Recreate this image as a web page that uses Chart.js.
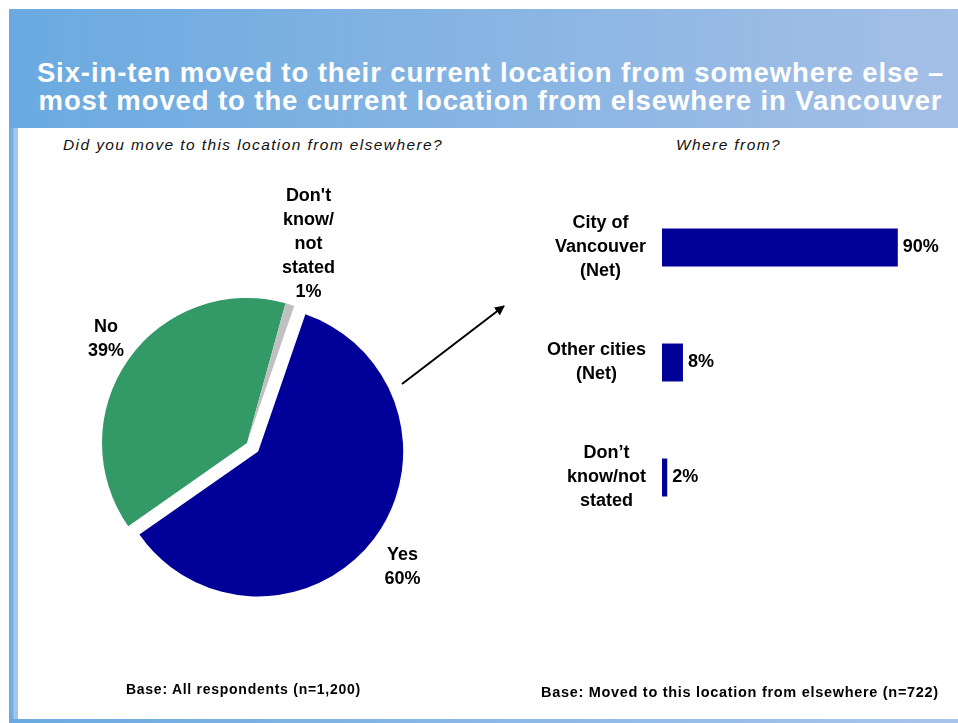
<!DOCTYPE html>
<html>
<head>
<meta charset="utf-8">
<script src="https://cdn.jsdelivr.net/npm/chart.js@4/dist/chart.umd.min.js"></script>
<style>
  html, body { margin: 0; padding: 0; background: #fff; }
  body { width: 958px; height: 723px; position: relative; overflow: hidden;
         font-family: "Liberation Sans", Arial, sans-serif; }
  .banner { position: absolute; left: 9px; top: 9px; width: 949px; height: 119px;
            background: linear-gradient(to right, #6aaae0, #a4bfe6); }
  .title { position: absolute; left: 20px; width: 941px; top: 59px; text-align: center;
           color: #fff; font-weight: bold; font-size: 27.5px; line-height: 28px; letter-spacing: 0.9px; }
  .strip { position: absolute; left: 9px; top: 128px; width: 9px; height: 595px;
           background: linear-gradient(to right, #6aa9df 0%, #78b0e2 45%, #a6c3ea 55%, #a6c3ea 100%); }
  .bottom { position: absolute; left: 9px; top: 719px; width: 949px; height: 4px;
            background: linear-gradient(to right, #6aaae0, #a8c4ec); }
  .sub { position: absolute; top: 136px; font-style: italic; font-size: 15.5px; letter-spacing: 1.4px; color: #111; }
  .base { position: absolute; font-weight: bold; color: #000; }
  #pieBox { position: absolute; left: 0; top: 150px; width: 560px; height: 500px; }
  #barBox { position: absolute; left: 480px; top: 180px; width: 478px; height: 400px; }
  svg { position: absolute; left: 0; top: 0; }
</style>
</head>
<body>
<div class="banner"></div>
<div class="title">Six-in-ten moved to their current location from somewhere else –<br>most moved to the current location from elsewhere in Vancouver</div>
<div class="strip"></div>
<div class="bottom"></div>
<div class="sub" style="left:63px">Did you move to this location from elsewhere?</div>
<div class="sub" style="left:676px">Where from?</div>

<div id="pieBox"><canvas id="pieChart"></canvas></div>
<div id="barBox"><canvas id="barChart"></canvas></div>

<svg width="958" height="723">
  <defs>
    <marker id="head" markerWidth="10" markerHeight="10" refX="9" refY="5" orient="auto" markerUnits="userSpaceOnUse">
      <path d="M0,0 L10,5 L0,10 z" fill="#000"/>
    </marker>
  </defs>
  <line x1="402" y1="384" x2="504" y2="306" stroke="#000" stroke-width="2" marker-end="url(#head)"/>
</svg>

<div class="base" style="left:126px; top:681px; font-size:14px; letter-spacing:0.73px">Base: All respondents (n=1,200)</div>
<div class="base" style="left:541px; top:684px; font-size:14.5px; letter-spacing:0.7px">Base: Moved to this location from elsewhere (n=722)</div>

<script>
/* ---------- data ---------- */
const pieLabels = [["Yes"], ["No"], ["Don't", "know/", "not", "stated"]];
const pieValues = [60, 39, 1];
const pieColors = ["#000099", "#339966", "#c0c0c0"];

const barLabels = [["City of", "Vancouver", "(Net)"], ["Other cities", "(Net)"], ["Don’t", "know/not", "stated"]];
const barValues = [90, 8, 2];

/* ---------- pie ---------- */
const labelFont = "bold 18px 'Liberation Sans', Arial, sans-serif";
const lineH = 24;
const labelGap = [40, 30, 63];   // distance of each label beyond the rim
const labelTurn = [0.03, 0.02, 0]; // small angular nudge (radians)
const explode = [14, 0, 0];      // pull the Yes slice out

const explodePlugin = {
  id: "explode",
  afterDatasetsUpdate(chart) {
    const arcs = chart.getDatasetMeta(0).data;
    arcs.forEach((arc, i) => {
      if (!explode[i]) return;
      const mid = (arc.startAngle + arc.endAngle) / 2;
      arc.x += Math.cos(mid) * explode[i];
      arc.y += Math.sin(mid) * explode[i];
    });
  },
  afterDatasetsDraw(chart) {
    const ctx = chart.ctx;
    const arcs = chart.getDatasetMeta(0).data;
    ctx.save();
    ctx.font = labelFont;
    ctx.fillStyle = "#000";
    ctx.textAlign = "center";
    ctx.textBaseline = "middle";
    arcs.forEach((arc, i) => {
      const mid = (arc.startAngle + arc.endAngle) / 2 + labelTurn[i];
      const d = arc.outerRadius + labelGap[i];
      const lines = pieLabels[i].concat([pieValues[i] + "%"]);
      const cx = arc.x + Math.cos(mid) * d;
      const cy = arc.y + Math.sin(mid) * d;
      const y0 = cy - (lines.length - 1) * lineH / 2;
      lines.forEach((t, k) => ctx.fillText(t, cx, y0 + k * lineH));
    });
    ctx.restore();
  }
};

new Chart(document.getElementById("pieChart"), {
  type: "pie",
  data: {
    labels: pieLabels.map(l => l.join(" ")),
    datasets: [{ data: pieValues, backgroundColor: pieColors, borderWidth: 0 }]
  },
  options: {
    responsive: true,
    maintainAspectRatio: false,
    animation: false,
    rotation: 19,
    layout: { padding: { left: 102, top: 148, right: 168, bottom: 62 } },
    plugins: { legend: { display: false }, tooltip: { enabled: false } }
  },
  plugins: [explodePlugin]
});

/* ---------- bars ---------- */
const barTextPlugin = {
  id: "barText",
  afterDatasetsDraw(chart) {
    const ctx = chart.ctx;
    const yScale = chart.scales.y;
    const bars = chart.getDatasetMeta(0).data;
    const rightEdge = chart.chartArea.left - 16;
    ctx.save();
    ctx.font = labelFont;
    ctx.fillStyle = "#000";
    ctx.textBaseline = "middle";
    barLabels.forEach((lines, i) => {
      const y = yScale.getPixelForValue(i);
      const w = Math.max(...lines.map(t => ctx.measureText(t).width));
      const cx = rightEdge - w / 2;
      const y0 = y - (lines.length - 1) * lineH / 2;
      ctx.textAlign = "center";
      lines.forEach((t, k) => ctx.fillText(t, cx, y0 + k * lineH));
    });
    ctx.textAlign = "left";
    bars.forEach((bar, i) => {
      ctx.fillText(barValues[i] + "%", bar.x + 5, bar.y);
    });
    ctx.restore();
  }
};

new Chart(document.getElementById("barChart"), {
  type: "bar",
  data: {
    labels: barLabels.map(l => l.join(" ")),
    datasets: [{ data: barValues, backgroundColor: "#000099", borderWidth: 0,
                 barPercentage: 0.33, categoryPercentage: 1 }]
  },
  options: {
    indexAxis: "y",
    responsive: true,
    maintainAspectRatio: false,
    animation: false,
    layout: { padding: { left: 182, right: 34, top: 10, bottom: 45 } },
    scales: {
      x: { display: false, min: 0, max: 100 },
      y: { display: false }
    },
    plugins: { legend: { display: false }, tooltip: { enabled: false } }
  },
  plugins: [barTextPlugin]
});
</script>
</body>
</html>
